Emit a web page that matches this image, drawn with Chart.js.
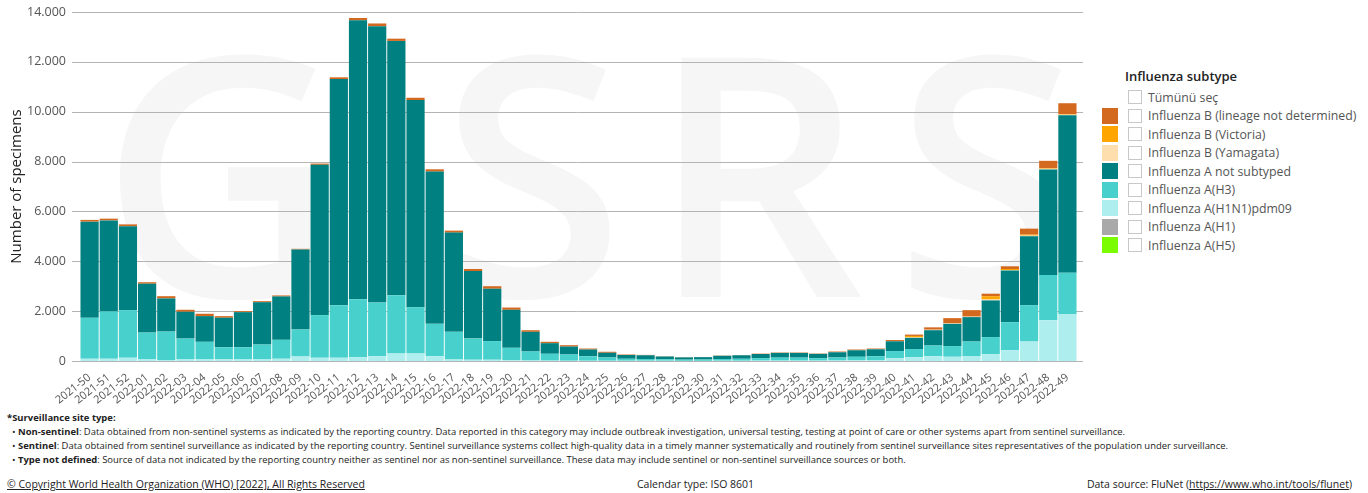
<!DOCTYPE html>
<html>
<head>
<meta charset="utf-8">
<script src="https://cdn.jsdelivr.net/npm/chart.js@4.4.0/dist/chart.umd.min.js"></script>
<style>
  body { margin: 0; width: 1368px; height: 493px; background: #fff; position: relative; overflow: hidden;
         font-family: 'Open Sans', 'Noto Sans', sans-serif; color: #333; }
  .wm { position: absolute; top: 0px; font-size: 335px; line-height: 1; font-weight: 600; color: #f6f6f6; }
  #chartBox { position: absolute; left: 0; top: 0; width: 1090px; height: 405px; }
  #legend { position: absolute; left: 1102px; top: 67px; font-size: 12.3px; color: #555; }
  #legend .ttl { font-weight: 600; font-size: 13px; color: #222; margin-left: 23px; height: 21px; }
  #legend .row { height: 18.5px; display: flex; align-items: center; }
  #legend .sw { width: 16px; height: 16px; margin-right: 10px; }
  #legend .cb { width: 12px; height: 12px; border: 1px solid #c8c8c8; margin-right: 6px; background: #fff; }
  #notes { position: absolute; left: 7px; top: 411px; font-size: 9.45px; color: #222; line-height: 14px; }
  #notes .ln { padding-left: 5px; }
  .foot { position: absolute; top: 477px; font-size: 10.5px; color: #222; }
  .foot u { text-decoration: underline; }
</style>
</head>
<body>
<span class="wm" style="left:100px">G</span>
<span class="wm" style="left:440px">S</span>
<span class="wm" style="left:650px">R</span>
<span class="wm" style="left:895px">S</span>

<div id="chartBox"><canvas id="fluChart" width="1090" height="405"></canvas></div>

<div id="legend"></div>

<div id="notes">
  <div><b>*Surveillance site type:</b></div>
  <div class="ln">• <b>Non-sentinel</b>: Data obtained from non-sentinel systems as indicated by the reporting country. Data reported in this category may include outbreak investigation, universal testing, testing at point of care or other systems apart from sentinel surveillance.</div>
  <div class="ln">• <b>Sentinel</b>: Data obtained from sentinel surveillance as indicated by the reporting country. Sentinel surveillance systems collect high-quality data in a timely manner systematically and routinely from sentinel surveillance sites representatives of the population under surveillance.</div>
  <div class="ln">• <b>Type not defined</b>: Source of data not indicated by the reporting country neither as sentinel nor as non-sentinel surveillance. These data may include sentinel or non-sentinel surveillance sources or both.</div>
</div>

<div class="foot" style="left:7px"><u>© Copyright World Health Organization (WHO) [2022], All Rights Reserved</u></div>
<div class="foot" style="left:637px">Calendar type: ISO 8601</div>
<div class="foot" style="right:16px">Data source: FluNet (<u>https://www.who.int/tools/flunet</u>)</div>

<script>
// ISO weeks shown on the x axis
const weeks = [
    '2021-50', '2021-51', '2021-52',
    '2022-01', '2022-02', '2022-03', '2022-04', '2022-05', '2022-06', '2022-07', '2022-08', '2022-09', '2022-10',
    '2022-11', '2022-12', '2022-13', '2022-14', '2022-15', '2022-16', '2022-17', '2022-18', '2022-19', '2022-20',
    '2022-21', '2022-22', '2022-23', '2022-24', '2022-25', '2022-26', '2022-27', '2022-28', '2022-29', '2022-30',
    '2022-31', '2022-32', '2022-33', '2022-34', '2022-35', '2022-36', '2022-37', '2022-38', '2022-39', '2022-40',
    '2022-41', '2022-42', '2022-43', '2022-44', '2022-45', '2022-46', '2022-47', '2022-48', '2022-49'
];

// specimens per subtype
const h1n1pdm = [90, 90, 130, 80, 40, 80, 80, 70, 80, 80, 90, 180, 130, 130, 150, 190, 300, 300, 190, 60, 50, 50, 30,
    20, 15, 10, 10, 10, 10, 10, 10, 5, 5, 10, 10, 15, 15, 15, 15, 20, 30, 40, 110, 150, 190, 170, 200, 270, 430, 780, 1640, 1870];
const h3 = [1640, 1900, 1910, 1060, 1140, 820, 690, 485, 475, 580, 760, 1080, 1710, 2110, 2330, 2160, 2340, 1860, 1300, 1110, 850, 750, 500,
    360, 275, 250, 180, 130, 80, 70, 60, 50, 55, 70, 80, 100, 120, 120, 100, 120, 140, 150, 290, 330, 430, 430, 580, 690, 1130, 1460, 1810, 1670];
const notSubtyped = [3860, 3650, 3370, 1960, 1330, 1075, 1030, 1180, 1405, 1700, 1740, 3215, 6030, 9070, 11190, 11080, 10200, 8310, 6110, 3980, 2710, 2100, 1525,
    790, 425, 320, 270, 190, 150, 150, 110, 90, 95, 130, 140, 165, 190, 190, 170, 210, 260, 280, 390, 450, 615, 890, 980, 1470, 2070, 2760, 4230, 6320];
const yamagata = [0, 0, 0, 0, 0, 0, 0, 0, 0, 0, 0, 0, 0, 0, 0, 0, 0, 0, 0, 0, 0, 0, 0,
    0, 0, 0, 0, 0, 0, 0, 0, 0, 0, 0, 0, 0, 0, 0, 0, 0, 0, 0, 0, 20, 20, 20, 20, 40, 20, 30, 30, 20];
const victoria = [0, 0, 0, 0, 0, 0, 0, 0, 0, 0, 0, 0, 0, 0, 0, 0, 0, 0, 0, 0, 0, 0, 0,
    0, 0, 0, 0, 0, 0, 0, 0, 0, 0, 0, 0, 0, 0, 0, 0, 0, 0, 0, 0, 55, 0, 0, 0, 130, 40, 40, 20, 20];
const lineageND = [70, 70, 70, 60, 90, 80, 95, 65, 40, 40, 40, 25, 50, 70, 90, 110, 90, 90, 90, 80, 80, 100, 90,
    65, 55, 55, 40, 40, 20, 15, 10, 10, 5, 10, 10, 15, 15, 15, 15, 30, 30, 30, 50, 55, 95, 210, 260, 100, 110, 240, 300, 440];
const h1 = weeks.map(() => 0);
const h5 = weeks.map(() => 0);

const yTicks = [0, 2000, 4000, 6000, 8000, 10000, 12000, 14000];

// legend order (top to bottom), stacking goes the other way
const subtypes = [
    { label: 'Influenza B (lineage not determined)', data: lineageND, color: '#D2691E' },
    { label: 'Influenza B (Victoria)', data: victoria, color: '#FFA500' },
    { label: 'Influenza B (Yamagata)', data: yamagata, color: '#FFDEAD' },
    { label: 'Influenza A not subtyped', data: notSubtyped, color: '#008080' },
    { label: 'Influenza A(H3)', data: h3, color: '#48D1CC' },
    { label: 'Influenza A(H1N1)pdm09', data: h1n1pdm, color: '#AFEEEE' },
    { label: 'Influenza A(H1)', data: h1, color: '#A9A9A9' },
    { label: 'Influenza A(H5)', data: h5, color: '#7CFC00' }
];

function formatThousands(v) {
    return String(v).replace(/\B(?=(\d{3})+(?!\d))/g, '.');
}

// html legend
const legendEl = document.getElementById('legend');
legendEl.innerHTML = '<div class="ttl">Influenza subtype</div>' +
    '<div class="row"><span class="sw"></span><span class="cb"></span>Tümünü seç</div>' +
    subtypes.map(s => `<div class="row"><span class="sw" style="background:${s.color}"></span><span class="cb"></span>${s.label}</div>`).join('');

const datasets = subtypes.slice().reverse().map(s => ({
    label: s.label,
    data: s.data,
    backgroundColor: s.color,
    borderWidth: 0,
    barPercentage: 0.95,
    categoryPercentage: 1
}));

// grid lines run a bit wider than the bars, like the original
const gridPlugin = {
    id: 'wideGrid',
    beforeDatasetsDraw(chart) {
        const { ctx, scales: { y }, chartArea } = chart;
        ctx.save();
        ctx.strokeStyle = '#b4b4b4';
        ctx.lineWidth = 1;
        yTicks.forEach(v => {
            const py = Math.round(y.getPixelForValue(v)) + 0.5;
            ctx.beginPath();
            ctx.moveTo(chartArea.left - 8, py);
            ctx.lineTo(chartArea.right + 6, py);
            ctx.stroke();
        });
        ctx.restore();
    }
};

new Chart(document.getElementById('fluChart'), {
    type: 'bar',
    data: { labels: weeks, datasets },
    plugins: [gridPlugin],
    options: {
        responsive: false,
        animation: false,
        layout: { padding: { top: 0, right: 13, left: 0, bottom: 0 } },
        plugins: { legend: { display: false }, tooltip: { enabled: false } },
        scales: {
            x: {
                stacked: true,
                grid: { display: false },
                border: { display: false },
                ticks: {
                    autoSkip: false, minRotation: 38, maxRotation: 38, padding: 2,
                    color: '#555', font: { family: "'Open Sans', sans-serif", size: 11 }
                },
                afterFit: s => { s.height = 44; }
            },
            y: {
                stacked: true,
                min: 0,
                max: 14000,
                afterBuildTicks: s => { s.ticks = yTicks.map(v => ({ value: v })); },
                grid: { display: false, drawTicks: false },
                border: { display: false },
                ticks: {
                    padding: 14, color: '#555',
                    font: { family: "'Open Sans', sans-serif", size: 12.5 },
                    callback: v => formatThousands(v)
                },
                title: {
                    display: true, text: 'Number of specimens', color: '#222',
                    font: { family: "'Open Sans', sans-serif", size: 15 }, padding: { top: 8, bottom: 0 }
                },
                afterFit: s => { s.width = 80; s.paddingTop = 12; s.paddingBottom = 8; }
            }
        }
    }
});
</script>
</body>
</html>
